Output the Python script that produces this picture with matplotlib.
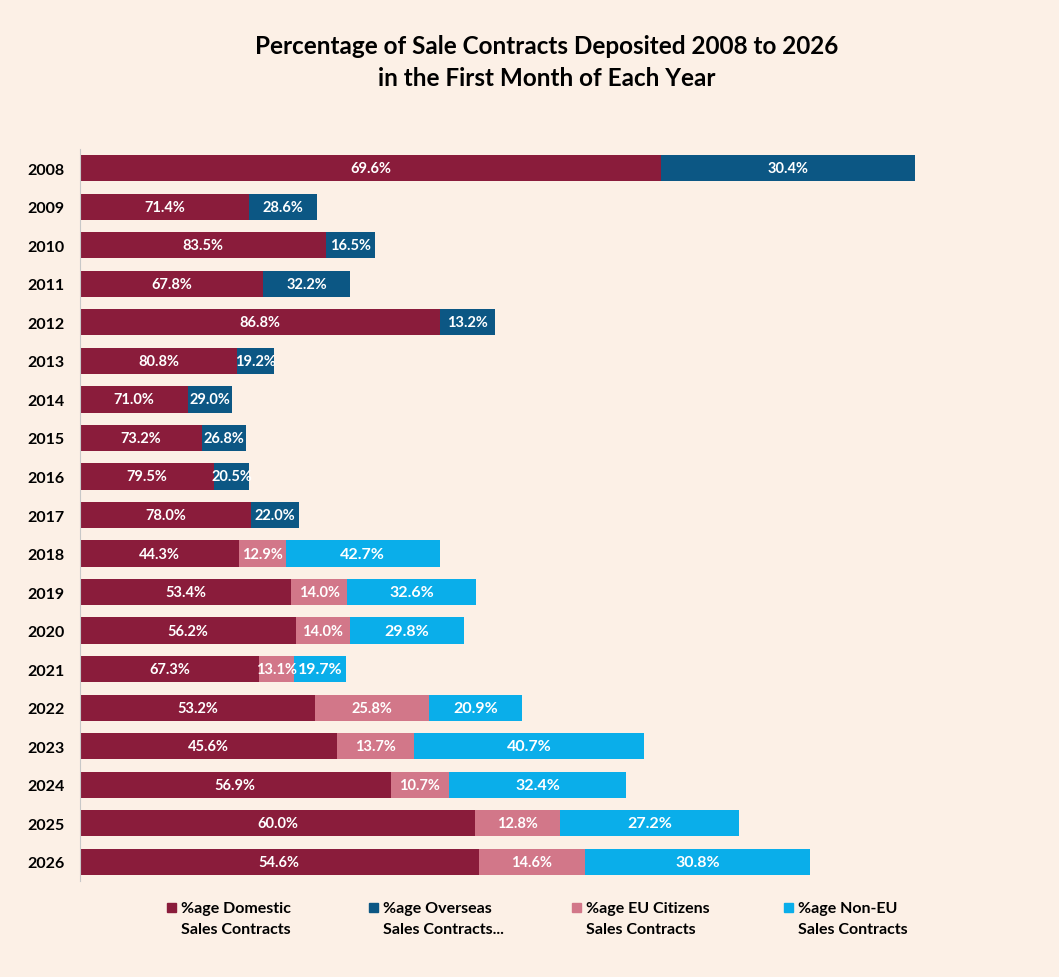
import numpy as np
import matplotlib.pyplot as plt
from matplotlib.patches import Rectangle

plt.rcParams['font.family'] = ['Lato', 'DejaVu Sans']

years = ['2008', '2009', '2010', '2011', '2012', '2013', '2014', '2015', '2016', '2017',
         '2018', '2019', '2020', '2021', '2022', '2023', '2024', '2025', '2026']
# total contracts (relative size)
totals = [835, 237, 295, 270, 415, 194, 152, 166, 169, 219,
          360, 396, 384, 266, 442, 564, 546, 659, 730]
domestic = [69.6, 71.4, 83.5, 67.8, 86.8, 80.8, 71.0, 73.2, 79.5, 78.0,
            44.3, 53.4, 56.2, 67.3, 53.2, 45.6, 56.9, 60.0, 54.6]
overseas = [30.4, 28.6, 16.5, 32.2, 13.2, 19.2, 29.0, 26.8, 20.5, 22.0,
            0, 0, 0, 0, 0, 0, 0, 0, 0]
eu = [0, 0, 0, 0, 0, 0, 0, 0, 0, 0,
      12.9, 14.0, 14.0, 13.1, 25.8, 13.7, 10.7, 12.8, 14.6]
non_eu = [0, 0, 0, 0, 0, 0, 0, 0, 0, 0,
          42.7, 32.6, 29.8, 19.7, 20.9, 40.7, 32.4, 27.2, 30.8]

series = [
    ('%age Domestic\nSales Contracts', domestic, '#8a1c3b', 10.5),
    ('%age Overseas\nSales Contracts...', overseas, '#0c5784', 10.5),
    ('%age EU Citizens\nSales Contracts', eu, '#d27789', 10.5),
    ('%age Non-EU\nSales Contracts', non_eu, '#0aaeea', 11.5),
]

bg = '#fcf0e6'
fig = plt.figure(figsize=(10.59, 9.78), dpi=100, facecolor=bg)
ax = fig.add_axes([80 / 1059, 96 / 978, 899 / 1059, 732 / 978])
ax.set_facecolor(bg)

y = np.arange(len(years))
tot = np.array(totals, dtype=float)
left = np.zeros(len(years))
for name, pct, col, fs in series:
    w = tot * np.array(pct) / 100
    ax.barh(y, w, left=left, height=0.68, color=col, label=name)
    for i in range(len(years)):
        if pct[i] > 0:
            ax.text(left[i] + w[i] / 2, y[i], f'{pct[i]:.1f}%', ha='center', va='center',
                    color='white', fontsize=fs, fontweight='bold')
    left += w

ax.set_xlim(0, 899)
ax.set_ylim(len(years) - 0.5, -0.5)
ax.set_yticks(y)
ax.set_yticklabels(years, fontsize=11.5, fontweight='bold')
ax.tick_params(axis='y', length=0, pad=11)
ax.set_xticks([])
for s in ['top', 'right', 'bottom']:
    ax.spines[s].set_visible(False)
ax.spines['left'].set_color('#c8c8c8')

fig.text(547 / 1059, 1 - 46 / 978, 'Percentage of Sale Contracts Deposited 2008 to 2026',
         ha='center', va='center', fontsize=17.5, fontweight='bold')
fig.text(547 / 1059, 1 - 79 / 978, 'in the First Month of Each Year',
         ha='center', va='center', fontsize=17.5, fontweight='bold')

# legend
lx = [167, 369, 572, 784]
for (name, pct, col, fs), x0 in zip(series, lx):
    fig.patches.append(Rectangle((x0 / 1059, 1 - 913 / 978), 9 / 1059, 9 / 978,
                                 transform=fig.transFigure, color=col))
    fig.text((x0 + 14) / 1059, 1 - 902 / 978, name, ha='left', va='top',
             fontsize=11.5, fontweight='bold', linespacing=1.65)

fig.savefig('out.png', dpi=100, facecolor=bg)
